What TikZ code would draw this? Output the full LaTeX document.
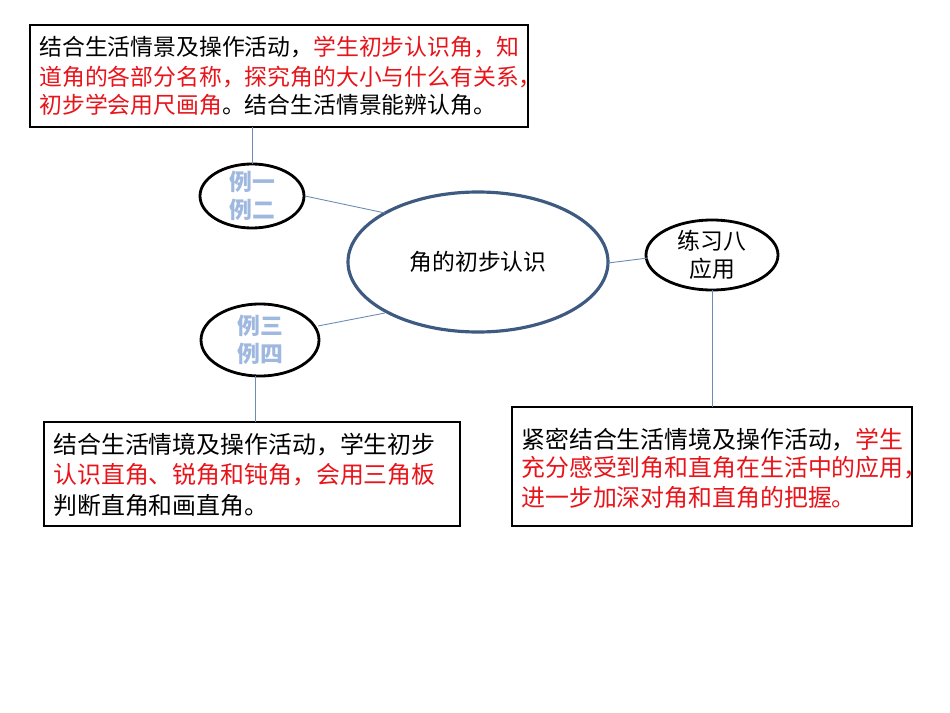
\documentclass[tikz,border=0pt]{standalone}
\usepackage{fontspec}
\setmainfont{Noto Sans CJK SC}
\definecolor{myred}{HTML}{E8141A}
\definecolor{edge}{HTML}{3F5A80}
\definecolor{lbl}{HTML}{9FB8E0}
\definecolor{conn}{HTML}{6A8CB4}
\begin{document}
\begin{tikzpicture}[x=0.02cm,y=-0.02cm,
  txt/.style={anchor=west,inner sep=0,font=\fontsize{13pt}{15pt}\selectfont},
  btxt/.style={anchor=west,inner sep=0,font=\fontsize{13.6pt}{15pt}\selectfont},
  box/.style={draw=black,line width=1.6pt},
  conline/.style={draw=conn,line width=0.5pt}]
\useasboundingbox (0,0) rectangle (950,713);
\fill[white] (0,0) rectangle (950,713);
% boxes
\draw[box] (30,25) rectangle (528,127);
\draw[box] (44,422) rectangle (460,526);
\draw[box] (512,407) rectangle (912,526);
\coordinate (t1) at (252,127);
\coordinate (b1) at (255,422);
\coordinate (b2) at (712,407);
% ellipses
\draw[edge,line width=1.8pt] (478,262) ellipse [x radius=130,y radius=70];
\node (c) at (478,262) [inner sep=0,font=\fontsize{13pt}{15pt}\selectfont] {角的初步认识};
\draw[line width=1.6pt] (252,196) ellipse [x radius=52,y radius=32];
\node (e1) at (252,196) [align=center,inner sep=0,text=lbl,font=\bfseries\fontsize{13pt}{16pt}\selectfont] {例一\\例二};
\draw[line width=1.6pt] (260,340) ellipse [x radius=59,y radius=36];
\node (e2) at (260,340) [align=center,inner sep=0,text=lbl,font=\bfseries\fontsize{13pt}{16pt}\selectfont] {例三\\例四};
\draw[line width=1.6pt] (712,255) ellipse [x radius=66,y radius=35];
\node (e3) at (712,255) [align=center,inner sep=0,font=\fontsize{13pt}{16pt}\selectfont] {练习八\\应用};
% connectors
\draw[conline] (t1) -- (252,164);
\draw[conline] (305,196) -- (385,213);
\draw[conline] (318,326) -- (385,313);
\draw[conline] (255,376) -- (b1);
\draw[conline] (608,263) -- (648,258);
\draw[conline] (712,290) -- (b2);
% texts
\node[txt] (a1) at (39,47) {结合生活情景及操作活动，\textcolor{myred}{学生初步认识角，知}};
\node[txt,text=myred] (a2) at (39,77) {道角的各部分名称，探究角的大小与什么有关系，};
\node[txt] (a3) at (39,105) {\textcolor{myred}{初步学会用尺画角}。结合生活情景能辨认角。};
\node[btxt] (l1) at (53,445) {结合生活情境及操作活动，学生初步};
\node[btxt,text=myred] (l2) at (53,475) {认识直角、锐角和钝角，会用三角板};
\node[btxt] (l3) at (53,505) {判断直角和画直角。};
\node[btxt] (r1) at (521,440) {紧密结合生活情境及操作活动，\textcolor{myred}{学生}};
\node[btxt,text=myred] (r2) at (521,468) {充分感受到角和直角在生活中的应用，};
\node[btxt,text=myred] (r3) at (521,497) {进一步加深对角和直角的把握。};
\end{tikzpicture}
\end{document}
